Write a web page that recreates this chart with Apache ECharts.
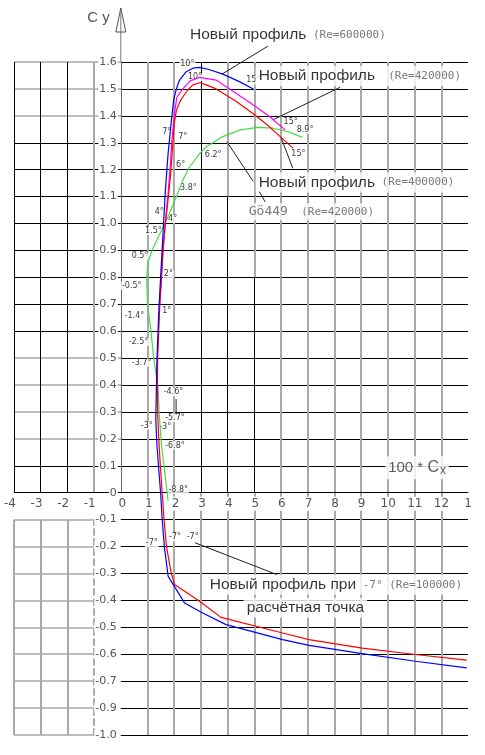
<!DOCTYPE html>
<html><head><meta charset="utf-8">
<script src="https://cdn.jsdelivr.net/npm/echarts@6/dist/echarts.min.js"></script>
<style>html,body{margin:0;padding:0;background:#fff}#c{width:485px;height:755px}</style>
</head><body><div id="c"></div>
<script>
// ---------- tick labels ----------
const xTickLabels = ['-4','-3','-2','-1','0','1','2','3','4','5','6','7','8','9','10','11','12','1'];
const yTickLabels = ['-1.0','-0.9','-0.7','-0.6','-0.5','-0.4','-0.3','-0.2','-0.1','0',
  '0.1','0.2','0.3','0.4','0.5','0.6','0.7','0.8','0.9','1.0','1.1','1.2','1.3','1.4','1.5','1.6'];

// ---------- series values [100*Cx, Cy] ----------
const blueRe600 = [[12.95,-0.651],[11.03,-0.626],[9.04,-0.598],[7.05,-0.567],[6.06,-0.546],[3.94,-0.490],[3.01,-0.444],[2.39,-0.410],[1.77,-0.310],[1.63,-0.200],[1.55,-0.100],[1.49,0],[1.41,0.10],[1.35,0.18],[1.31,0.27],[1.33,0.38],[1.35,0.49],[1.39,0.59],[1.43,0.69],[1.49,0.80],[1.54,0.89],[1.60,1.00],[1.67,1.125],[1.77,1.26],[1.87,1.36],[1.98,1.46],[2.08,1.50],[2.20,1.533],[2.45,1.564],[2.70,1.577],[2.95,1.580],[3.30,1.572],[3.82,1.555],[4.44,1.527],[4.96,1.500]];
const redRe400 = [[12.95,-0.622],[11.03,-0.601],[9.04,-0.577],[7.05,-0.546],[6.06,-0.521],[3.75,-0.463],[2.95,-0.403],[2.01,-0.341],[1.87,-0.29],[1.71,-0.20],[1.62,-0.10],[1.55,0],[1.48,0.10],[1.42,0.20],[1.38,0.30],[1.37,0.40],[1.38,0.50],[1.42,0.60],[1.46,0.70],[1.52,0.80],[1.58,0.90],[1.67,1.00],[1.78,1.10],[1.88,1.20],[1.95,1.30],[2.00,1.37],[2.08,1.42],[2.20,1.45],[2.32,1.47],[2.50,1.495],[2.70,1.515],[2.95,1.523],[3.20,1.515],[3.57,1.500],[4.30,1.455],[5.06,1.400],[5.50,1.365],[6.00,1.320],[6.45,1.280]];
const magentaRe420 = [[1.46,0.70],[1.52,0.80],[1.58,0.90],[1.66,1.00],[1.76,1.10],[1.84,1.20],[1.92,1.32],[2.01,1.41],[2.10,1.47],[2.32,1.50],[2.60,1.530],[2.95,1.543],[3.57,1.533],[4.30,1.485],[5.06,1.434],[5.60,1.395],[6.16,1.347]];
const greenGo449 = [[1.77,-0.03],[1.64,0.08],[1.52,0.18],[1.44,0.29],[1.39,0.395],[1.23,0.50],[1.13,0.60],[1.00,0.70],[0.97,0.80],[1.03,0.86],[1.17,0.90],[1.40,0.95],[1.60,0.99],[1.77,1.026],[2.08,1.10],[2.32,1.16],[2.57,1.21],[2.95,1.26],[3.20,1.285],[3.82,1.323],[4.44,1.347],[5.12,1.357],[5.70,1.354],[6.30,1.340],[6.80,1.320]];

// ---------- angle-of-attack labels [x, y, text] ----------
const angleLabels = [[2.49,1.594,'10°'],[2.78,1.544,'10°'],[1.72,1.342,'7°'],[2.32,1.321,'7°'],[2.24,1.218,'6°'],
  [3.46,1.256,'6.2°'],[4.96,1.532,'15°'],[6.36,1.376,'15°'],[6.90,1.348,'8.9°'],[6.65,1.259,'15°'],
  [2.53,1.132,'3.8°'],[1.44,1.043,'4°'],[1.94,1.017,'4°'],[1.22,0.973,'1.5°'],[0.72,0.880,'0.5°'],
  [1.78,0.812,'2°'],[0.41,0.769,'-0.5°'],[1.72,0.676,'1°'],[0.51,0.655,'-1.4°'],[0.66,0.560,'-2.5°'],
  [0.78,0.482,'-3.7°'],[1.97,0.373,'-4.6°'],[2.03,0.277,'-5.7°'],[0.97,0.249,'-3°'],[1.66,0.243,'-3°'],
  [2.03,0.175,'-6.8°'],[2.15,0.011,'-8.8°'],[1.16,-0.187,'-7°'],[2.03,-0.166,'-7°'],[2.69,-0.164,'-7°']];

// ---------- annotations ----------
const notePos = [[2.46,1.700],[5.03,1.548],[5.03,1.152],[4.66,1.044],[3.20,-0.342],[4.58,-0.427],[9.88,0.093]];
const noteText = [
  '{a|Новый профиль} {b|(Re=600000)}',
  '{a|Новый профиль}  {b|(Re=420000)}',
  '{a|Новый профиль} {b|(Re=400000)}',
  '{g|Gö449} {b| (Re=420000)}',
  '{a|Новый профиль при} {b|-7°} {b|(Re=100000)}',
  '{a|расчётная точка}',
  '{n|100 * }{c|C}{s|x}'
];
const leaders = [
  [[3.79,1.555],[5.51,1.659]],
  [[5.69,1.385],[8.21,1.506]],
  [[6.00,1.320],[6.44,1.205]],
  [[3.97,1.304],[4.96,1.156]],
  [[5.19,1.118],[5.40,1.081]],
  [[2.78,-0.186],[5.84,-0.304]],
  [[2.07,0.348],[2.07,0.290]]
];

// ---------- layout ----------
const X_MIN=-4, X_MAX=13, Y_MIN=-0.9, Y_MAX=1.6;
const W=485, H=755, GL=14, GR=17, GT=62, GB=20;
const PW=W-GL-GR, PH=H-GT-GB;
const px = x => GL + (x-X_MIN)/(X_MAX-X_MIN)*PW;
const py = y => GT + (Y_MAX-y)/(Y_MAX-Y_MIN)*PH;
const K='#000', GR_C='#a9a9a9', T='rgba(0,0,0,0)';
const FONT_TICK='DejaVu Sans';

const range = (a,b) => { const r=[]; for(let i=a;i<=b;i++) r.push(i); return r; };

// decor grids: x range, y range in tenths, black/gray verticals, black/gray horizontals
const decor = [
  {x:[-4,0], yt:[0,16], vK:[-4,-3,-2], vG:[-1], hK:[0,1,6,7,8,9,10,11,12,13], hG:[2,3,4,5,14,15,16], edge:{color:'#666', type:'solid'}},
  {x:[-4,-1], yt:[-9,-1], vK:[], vG:[-4,-3,-2], hK:[], hG:range(-9,-1), edge:{color:'#aaa', type:[6,4]}},
  {x:[0,13], yt:[11,16], vK:[3], vG:[1,2,4,5,6,7,8,9,10,11,12], hK:range(11,16), hG:[]},
  {x:[0,13], yt:[8,11], vK:[3,4], vG:[1,2,5,6,7,8,9,10,11,12], hK:range(8,11), hG:[]},
  {x:[0,13], yt:[0,8], vK:[3,4,5], vG:[1,2,6,7,8,9,10,11,12], hK:range(1,8), hG:[]},
  {x:[0,13], yt:[-9,0], vK:[], vG:range(1,12), hK:range(-9,-1), hG:[]}
];

const grids = [{left:GL, right:GR, top:GT, bottom:GB}];
const xAxes = [{
  gridIndex:0, type:'value', min:X_MIN, max:X_MAX, interval:1, show:false,
  axisLine:{onZero:false}
}];
const yAxes = [{
  gridIndex:0, type:'value', min:Y_MIN, max:Y_MAX, interval:0.1, show:false,
  axisLine:{onZero:false}
}];

decor.forEach((d, k) => {
  const gi = k+1;
  const y0=d.yt[0]/10, y1=d.yt[1]/10;
  grids.push({left:px(d.x[0]), top:py(y1), width:px(d.x[1])-px(d.x[0]), height:py(y0)-py(y1)});
  const xs = range(d.x[0], d.x[1]);
  const ys = range(d.yt[0], d.yt[1]);
  const base = {gridIndex:gi, type:'value', z:1, axisTick:{show:false}, axisLabel:{show:false}};
  xAxes.push(Object.assign({}, base, {min:d.x[0], max:d.x[1], interval:1, position:'bottom',
    axisLine:{show:false, onZero:false},
    splitLine:{show:true, lineStyle:{width:1, color:xs.map(v=>d.vK.includes(v)?K:T)}}}));
  xAxes.push(Object.assign({}, base, {min:d.x[0], max:d.x[1], interval:1, position:'top',
    axisLine:{show:false, onZero:false},
    splitLine:{show:true, lineStyle:{width:2, color:xs.map(v=>d.vG.includes(v)?GR_C:T)}}}));
  yAxes.push(Object.assign({}, base, {min:y0, max:y1, interval:0.1, position:'right',
    axisLine:{show:!!d.edge, onZero:false, lineStyle:d.edge ? {color:d.edge.color, type:d.edge.type, width:d.edge.type==='solid'?1:2} : {}},
    splitLine:{show:true, lineStyle:{width:1, color:ys.map(v=>d.hK.includes(v)?K:T)}}}));
  yAxes.push(Object.assign({}, base, {min:y0, max:y1, interval:0.1, position:'left',
    axisLine:{show:false, onZero:false},
    splitLine:{show:true, lineStyle:{width:1.5, color:ys.map(v=>d.hG.includes(v)?GR_C:T)}}}));
});

// x label grid: full width, upper half -> its bottom axis sits on Cy = 0
const LX = grids.length;
grids.push({left:GL, right:GR, top:py(Y_MAX), height:py(0)-py(Y_MAX)});
xAxes.push({
  gridIndex:LX, type:'value', min:X_MIN, max:X_MAX, interval:1, z:5, position:'bottom',
  axisLine:{show:true, onZero:false, lineStyle:{color:'#000', width:1}},
  axisTick:{show:false}, splitLine:{show:false},
  axisLabel:{
    margin:4, color:'#555', fontFamily:FONT_TICK, fontSize:12, backgroundColor:'#fff', padding:[1,1],
    formatter:(v,i)=> (v<0 ? '{n|'+xTickLabels[i]+'}' : xTickLabels[i]),
    rich:{n:{padding:[0,12,0,0], color:'#555', fontFamily:FONT_TICK, fontSize:12}}
  }
});
yAxes.push({gridIndex:LX, type:'value', min:0, max:Y_MAX, show:false, axisLine:{onZero:false}});

// y label grid: right part, full height -> its left axis sits on 100*Cx = 0
const LY = grids.length;
grids.push({left:px(0), right:GR, top:GT, bottom:GB});
xAxes.push({gridIndex:LY, type:'value', min:0, max:X_MAX, show:false, axisLine:{onZero:false}});
yAxes.push({
  gridIndex:LY, type:'value', min:Y_MIN, max:Y_MAX, interval:0.1, z:5, position:'left',
  axisLine:{show:false, onZero:false}, axisTick:{show:false}, splitLine:{show:false},
  axisLabel:{margin:3, color:'#555', fontFamily:FONT_TICK, fontSize:11, backgroundColor:'#fff', padding:[0,1],
    formatter:(v,i)=>yTickLabels[i]}
});

const curve = (name, data, color) => ({
  name, type:'line', xAxisIndex:0, yAxisIndex:0, data, symbol:'none', showSymbol:false,
  lineStyle:{color, width:1.2}, z:10, silent:true, animation:false
});

const series = [
  curve('Gö449 (Re=420000)', greenGo449, '#44dd44'),
  curve('Новый профиль (Re=420000)', magentaRe420, '#ff00ff'),
  curve('Новый профиль (Re=400000)', redRe400, '#ff0000'),
  curve('Новый профиль (Re=600000)', blueRe600, '#0000ff'),
  {
    type:'scatter', xAxisIndex:0, yAxisIndex:0, z:6, silent:true, animation:false, clip:false,
    symbol:'circle', symbolSize:1, itemStyle:{color:T},
    data: angleLabels,
    label:{show:true, position:'inside', formatter:p=>p.data[2], color:'#000',
      fontFamily:'DejaVu Sans', fontSize:8, backgroundColor:'#fff', padding:[0,1]}
  },
  {
    type:'scatter', xAxisIndex:0, yAxisIndex:0, z:7, silent:true, animation:false, clip:false,
    symbol:'circle', symbolSize:1, itemStyle:{color:T},
    data: notePos.map((p,i)=>({value:p, text:noteText[i]})),
    label:{show:true, position:'right', distance:0, formatter:p=>p.data.text,
      backgroundColor:'#fff', padding:[2,3],
      fontFamily:'DejaVu Sans Mono', fontSize:11, color:'#555',
      rich:{
        a:{fontFamily:'Liberation Sans', fontSize:15.5, color:'#000'},
        b:{fontFamily:'DejaVu Sans Mono', fontSize:11, color:'#555'},
        g:{fontFamily:'DejaVu Sans Mono', fontSize:13, color:'#555'},
        n:{fontFamily:'Liberation Sans', fontSize:15, color:'#333'},
        c:{fontFamily:'Liberation Sans', fontSize:16, color:'#333'},
        s:{fontFamily:'Liberation Sans', fontSize:12, color:'#333', padding:[7,0,0,1]}
      }}
  }
];
leaders.forEach(seg => series.push({
  type:'line', xAxisIndex:0, yAxisIndex:0, data:seg, symbol:'none', clip:false,
  lineStyle:{color:'#222', width:1}, z:8, silent:true, animation:false
}));

const chart = echarts.init(document.getElementById('c'), null, {renderer:'canvas'});
chart.setOption({
  animation:false, backgroundColor:'#fff',
  grid:grids, xAxis:xAxes, yAxis:yAxes, series
});

const o = chart.convertToPixel({xAxisIndex:0, yAxisIndex:0}, [0, Y_MAX]);
chart.setOption({graphic:[
  {type:'line', z:20, shape:{x1:o[0], y1:o[1], x2:o[0], y2:o[1]-54}, style:{stroke:'#777', lineWidth:1}},
  {type:'polygon', z:20, shape:{points:[[o[0],o[1]-54],[o[0]-5,o[1]-30],[o[0]+5,o[1]-30]]}, style:{fill:'#fff', stroke:'#555', lineWidth:1}},
  {type:'line', z:21, shape:{x1:o[0], y1:o[1]-50, x2:o[0], y2:o[1]-30}, style:{stroke:'#777', lineWidth:1}},
  {type:'text', z:20, style:{text:'C y', x:o[0]-11, y:o[1]-44, align:'right', verticalAlign:'middle',
    fill:'#555', font:'15px "Liberation Sans"'}}
]});
</script></body></html>
